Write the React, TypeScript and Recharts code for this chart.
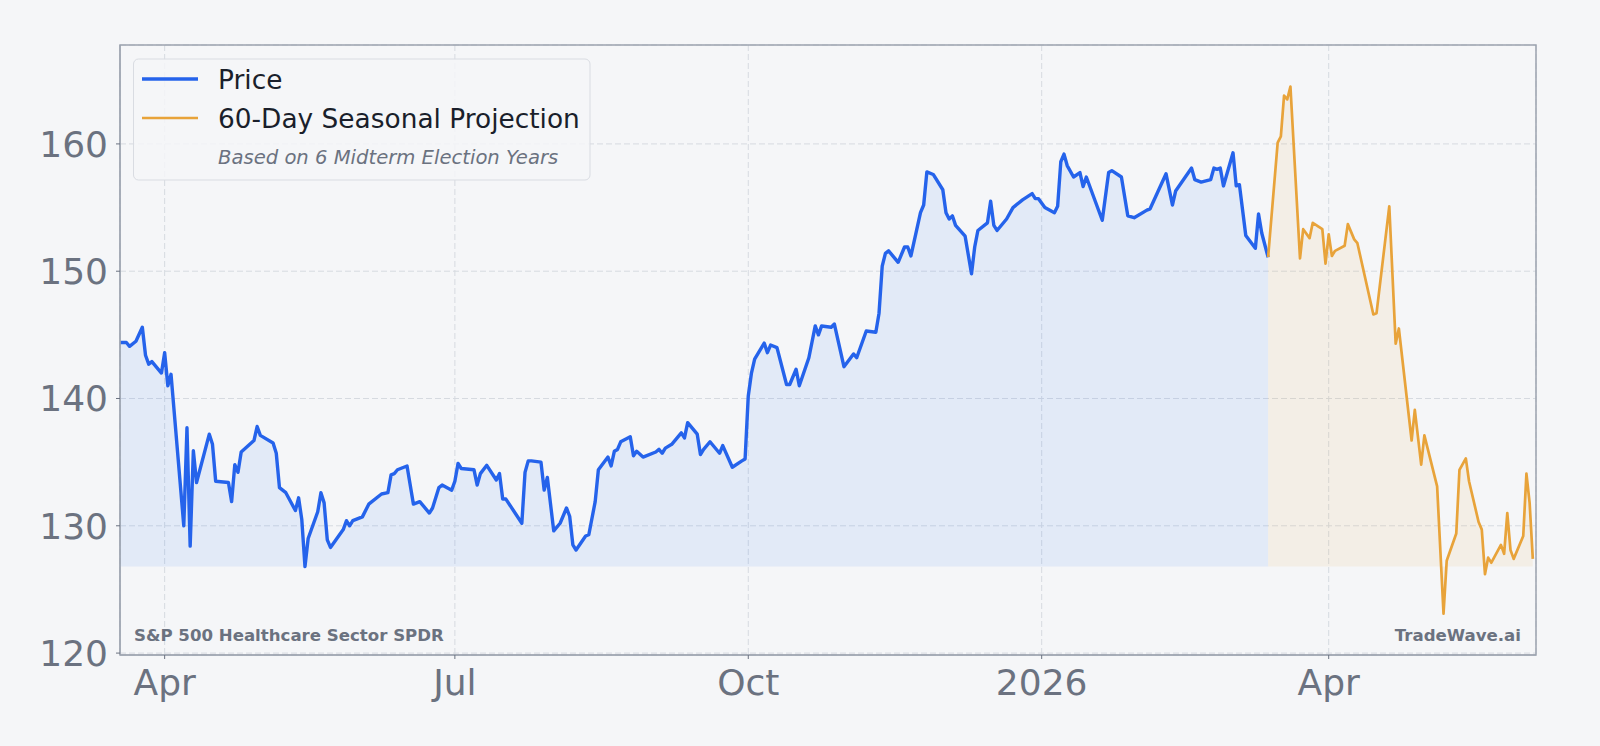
import React from "react";
import { AreaChart, Area, XAxis, YAxis, CartesianGrid, ReferenceArea } from "recharts";

const priceDates = [
  "2025-03-18", "2025-03-20", "2025-03-21", "2025-03-23", "2025-03-25", "2025-03-26", "2025-03-27", "2025-03-28",
  "2025-03-31", "2025-04-01", "2025-04-02", "2025-04-03", "2025-04-07", "2025-04-08", "2025-04-09", "2025-04-10",
  "2025-04-11", "2025-04-15", "2025-04-16", "2025-04-17", "2025-04-21", "2025-04-22", "2025-04-23", "2025-04-24",
  "2025-04-25", "2025-04-29", "2025-04-30", "2025-05-01", "2025-05-05", "2025-05-06", "2025-05-07", "2025-05-09",
  "2025-05-12", "2025-05-13", "2025-05-14", "2025-05-15", "2025-05-16", "2025-05-19", "2025-05-20", "2025-05-21",
  "2025-05-22", "2025-05-23", "2025-05-27", "2025-05-28", "2025-05-29", "2025-05-30", "2025-06-02", "2025-06-04",
  "2025-06-08", "2025-06-10", "2025-06-11", "2025-06-12", "2025-06-13", "2025-06-15", "2025-06-16", "2025-06-18",
  "2025-06-20", "2025-06-23", "2025-06-24", "2025-06-26", "2025-06-27", "2025-06-30", "2025-07-01", "2025-07-02",
  "2025-07-03", "2025-07-07", "2025-07-08", "2025-07-09", "2025-07-11", "2025-07-14", "2025-07-15", "2025-07-16",
  "2025-07-17", "2025-07-22", "2025-07-23", "2025-07-24", "2025-07-25", "2025-07-28", "2025-07-29", "2025-07-30",
  "2025-08-01", "2025-08-03", "2025-08-05", "2025-08-06", "2025-08-07", "2025-08-08", "2025-08-11", "2025-08-12",
  "2025-08-14", "2025-08-15", "2025-08-18", "2025-08-19", "2025-08-20", "2025-08-21", "2025-08-22", "2025-08-25",
  "2025-08-26", "2025-08-27", "2025-08-29", "2025-09-02", "2025-09-03", "2025-09-04", "2025-09-05", "2025-09-07",
  "2025-09-10", "2025-09-11", "2025-09-12", "2025-09-15", "2025-09-16", "2025-09-17", "2025-09-19", "2025-09-22",
  "2025-09-23", "2025-09-26", "2025-09-29", "2025-09-30", "2025-10-01", "2025-10-02", "2025-10-03", "2025-10-06",
  "2025-10-07", "2025-10-08", "2025-10-10", "2025-10-13", "2025-10-14", "2025-10-16", "2025-10-17", "2025-10-20",
  "2025-10-22", "2025-10-23", "2025-10-24", "2025-10-27", "2025-10-28", "2025-10-31", "2025-11-03", "2025-11-04",
  "2025-11-07", "2025-11-10", "2025-11-11", "2025-11-12", "2025-11-13", "2025-11-14", "2025-11-17", "2025-11-19",
  "2025-11-20", "2025-11-21", "2025-11-24", "2025-11-25", "2025-11-26", "2025-11-28", "2025-12-01", "2025-12-02",
  "2025-12-03", "2025-12-04", "2025-12-05", "2025-12-08", "2025-12-10", "2025-12-11", "2025-12-12", "2025-12-15",
  "2025-12-16", "2025-12-17", "2025-12-18", "2025-12-21", "2025-12-23", "2025-12-26", "2025-12-29", "2025-12-30",
  "2025-12-31", "2026-01-02", "2026-01-05", "2026-01-06", "2026-01-07", "2026-01-08", "2026-01-09", "2026-01-11",
  "2026-01-13", "2026-01-14", "2026-01-15", "2026-01-20", "2026-01-22", "2026-01-23", "2026-01-26", "2026-01-28",
  "2026-01-30", "2026-02-03", "2026-02-04", "2026-02-09", "2026-02-11", "2026-02-12", "2026-02-17", "2026-02-18",
  "2026-02-20", "2026-02-23", "2026-02-24", "2026-02-25", "2026-02-26", "2026-02-27", "2026-03-02", "2026-03-03",
  "2026-03-04", "2026-03-06", "2026-03-09", "2026-03-10", "2026-03-11", "2026-03-13",
];
const priceValues = [
  144.4, 144.4, 144.1, 144.5, 145.6, 143.4, 142.7, 142.9,
  142.0, 143.6, 141.0, 141.9, 130.0, 137.7, 128.4, 135.9,
  133.4, 137.2, 136.4, 133.5, 133.4, 131.9, 134.8, 134.2,
  135.8, 136.7, 137.8, 137.1, 136.5, 135.7, 133.0, 132.6,
  131.2, 132.2, 130.5, 126.8, 129.0, 131.1, 132.6, 131.8,
  128.9, 128.3, 129.7, 130.4, 130.0, 130.4, 130.7, 131.7,
  132.5, 132.6, 134.0, 134.1, 134.4, 134.6, 134.7, 131.7,
  131.9, 131.0, 131.4, 133.0, 133.2, 132.8, 133.5, 134.9,
  134.5, 134.4, 133.2, 134.1, 134.75, 133.6, 134.1, 132.1,
  132.1, 130.2, 134.2, 135.1, 135.1, 135.0, 132.8, 133.8,
  129.6, 130.2, 131.4, 130.75, 128.5, 128.1, 129.2, 129.3,
  131.9, 134.4, 135.4, 134.7, 135.85, 136.0, 136.6, 137.0,
  135.5, 135.85, 135.4, 135.8, 136.0, 135.7, 136.1, 136.4,
  137.3, 136.9, 138.1, 137.2, 135.6, 136.0, 136.6, 135.7,
  136.3, 134.6, 135.1, 135.25, 140.2, 142.0, 143.1, 144.35,
  143.6, 144.2, 144.0, 141.1, 141.1, 142.3, 141.0, 143.2,
  145.7, 145.0, 145.7, 145.6, 145.85, 142.5, 143.5, 143.2,
  145.3, 145.2, 146.7, 150.4, 151.4, 151.6, 150.7, 151.9,
  151.9, 151.2, 154.6, 155.2, 157.8, 157.6, 156.4, 154.6,
  154.1, 154.35, 153.6, 152.75, 149.8, 151.9, 153.2, 153.8,
  155.5, 153.6, 153.2, 154.1, 155.0, 155.6, 156.1, 155.7,
  155.7, 155.0, 154.6, 155.1, 158.6, 159.2, 158.3, 157.4,
  157.75, 156.65, 157.4, 154.0, 157.75, 157.9, 157.4, 154.35,
  154.2, 154.8, 154.9, 157.65, 155.2, 156.3, 158.1, 157.2,
  157.0, 157.2, 158.1, 158.0, 158.1, 156.7, 159.3, 156.7,
  156.8, 152.8, 151.8, 154.5, 153.0, 151.1,
];

const projDates = [
  "2026-03-13", "2026-03-16", "2026-03-17", "2026-03-18", "2026-03-19", "2026-03-20", "2026-03-23", "2026-03-24",
  "2026-03-26", "2026-03-27", "2026-03-30", "2026-03-31", "2026-04-01", "2026-04-02", "2026-04-03", "2026-04-06",
  "2026-04-07", "2026-04-09", "2026-04-10", "2026-04-15", "2026-04-16", "2026-04-20", "2026-04-22", "2026-04-23",
  "2026-04-27", "2026-04-28", "2026-04-30", "2026-05-01", "2026-05-05", "2026-05-07", "2026-05-08", "2026-05-11",
  "2026-05-12", "2026-05-14", "2026-05-15", "2026-05-18", "2026-05-19", "2026-05-20", "2026-05-21", "2026-05-22",
  "2026-05-25", "2026-05-26", "2026-05-27", "2026-05-28", "2026-05-29", "2026-06-01", "2026-06-02", "2026-06-03",
  "2026-06-04",
];
const projValues = [
  151.1, 160.1, 160.6, 163.8, 163.5, 164.5, 151.0, 153.3,
  152.6, 153.8, 153.3, 150.6, 152.9, 151.2, 151.6, 152.0,
  153.7, 152.5, 152.2, 146.6, 146.7, 155.1, 144.3, 145.5,
  136.7, 139.1, 134.8, 137.1, 133.1, 123.1, 127.25, 129.4,
  134.4, 135.3, 133.5, 130.3, 129.7, 126.2, 127.5, 127.1,
  128.5, 127.8, 131.0, 128.1, 127.4, 129.2, 134.1, 131.8,
  127.4,
];

const tickDates = ["2025-04-01", "2025-07-01", "2025-10-01", "2026-01-01", "2026-04-01"];
const tickLabels = ["Apr", "Jul", "Oct", "2026", "Apr"];
const yTicks = [120, 130, 140, 150, 160];

const ts = (d: string) => new Date(d + "T00:00:00Z").getTime();

const rowsByTime: Record<number, any> = {};
priceDates.forEach((d, i) => {
  const t = ts(d);
  rowsByTime[t] = { ...(rowsByTime[t] || { t }), price: priceValues[i] };
});
projDates.forEach((d, i) => {
  const t = ts(d);
  rowsByTime[t] = { ...(rowsByTime[t] || { t }), proj: projValues[i] };
});
const data = Object.values(rowsByTime).sort((a: any, b: any) => a.t - b.t);

const baseline = Math.min(...priceValues);
const xDomain = [ts("2025-03-18"), ts("2026-06-05")];
const yDomain = [119.85, 167.77];
const xTicks = tickDates.map(ts);

const FONT = "DejaVu Sans";
const BG = "#f5f6f8";
const BLUE = "#2563eb";
const ORANGE = "#e8a33a";
const GRAY = "#6b7280";

const App = () => {
  return (
    <div style={{ position: "absolute", left: 0, top: 0, width: 1600, height: 746, background: BG, fontFamily: FONT }}>
      <AreaChart width={1600} height={746} data={data} margin={{ top: 45, right: 64, bottom: 0, left: 0 }}>
        <CartesianGrid stroke="#d6dae0" strokeDasharray="6 3" strokeWidth={1} />
        <XAxis
          dataKey="t"
          type="number"
          domain={xDomain}
          allowDataOverflow
          ticks={xTicks}
          interval={0}
          height={91}
          tickFormatter={(v: number) => tickLabels[xTicks.indexOf(v)]}
          tick={{ fontSize: 36, fill: GRAY, fontFamily: FONT }}
          tickSize={4}
          tickMargin={10}
          stroke="#9ca3af"
          tickLine={{ stroke: "#6b7280" }}
        />
        <YAxis
          type="number"
          domain={yDomain}
          allowDataOverflow
          ticks={yTicks}
          interval={0}
          width={120}
          tick={{ fontSize: 36, fill: GRAY, fontFamily: FONT }}
          tickSize={4}
          tickMargin={8}
          stroke="#9ca3af"
          tickLine={{ stroke: "#6b7280" }}
        />
        <Area
          dataKey="price"
          type="linear"
          baseValue={baseline}
          stroke={BLUE}
          strokeWidth={3.4}
          strokeLinejoin="round"
          fill="#3b82f6"
          fillOpacity={0.1}
          dot={false}
          activeDot={false}
          isAnimationActive={false}
        />
        <Area
          dataKey="proj"
          type="linear"
          baseValue={baseline}
          stroke={ORANGE}
          strokeWidth={2.7}
          strokeLinejoin="round"
          fill={ORANGE}
          fillOpacity={0.09}
          dot={false}
          activeDot={false}
          isAnimationActive={false}
        />
        <ReferenceArea
          x1={xDomain[0]}
          x2={xDomain[1]}
          y1={yDomain[0]}
          y2={yDomain[1]}
          fill="none"
          stroke="#9ca3af"
          strokeWidth={1.5}
          ifOverflow="visible"
        />
      </AreaChart>
      <svg width={1600} height={746} style={{ position: "absolute", left: 0, top: 0, pointerEvents: "none" }}>
        <rect x={133.5} y={59} width={456.5} height={121} rx={5} fill={BG} fillOpacity={0.85} stroke="#d9dce2" />
        <line x1={142} x2={198} y1={79} y2={79} stroke={BLUE} strokeWidth={3.4} />
        <line x1={142} x2={198} y1={118} y2={118} stroke={ORANGE} strokeWidth={2.7} />
        <text x={218} y={89} fontSize={26.4} fill="#1a1f2b" fontFamily={FONT}>Price</text>
        <text x={218} y={128} fontSize={26.4} fill="#1a1f2b" fontFamily={FONT}>60-Day Seasonal Projection</text>
        <text x={218} y={164} fontSize={19.6} fill={GRAY} fontStyle="italic" fontFamily={FONT}>
          Based on 6 Midterm Election Years
        </text>
        <text x={134} y={641} fontSize={16.6} fontWeight="bold" fill={GRAY} fontFamily={FONT}>
          S&amp;P 500 Healthcare Sector SPDR
        </text>
        <text x={1521} y={641} fontSize={16.6} fontWeight="bold" fill={GRAY} textAnchor="end" fontFamily={FONT}>
          TradeWave.ai
        </text>
      </svg>
    </div>
  );
};

export default App;
